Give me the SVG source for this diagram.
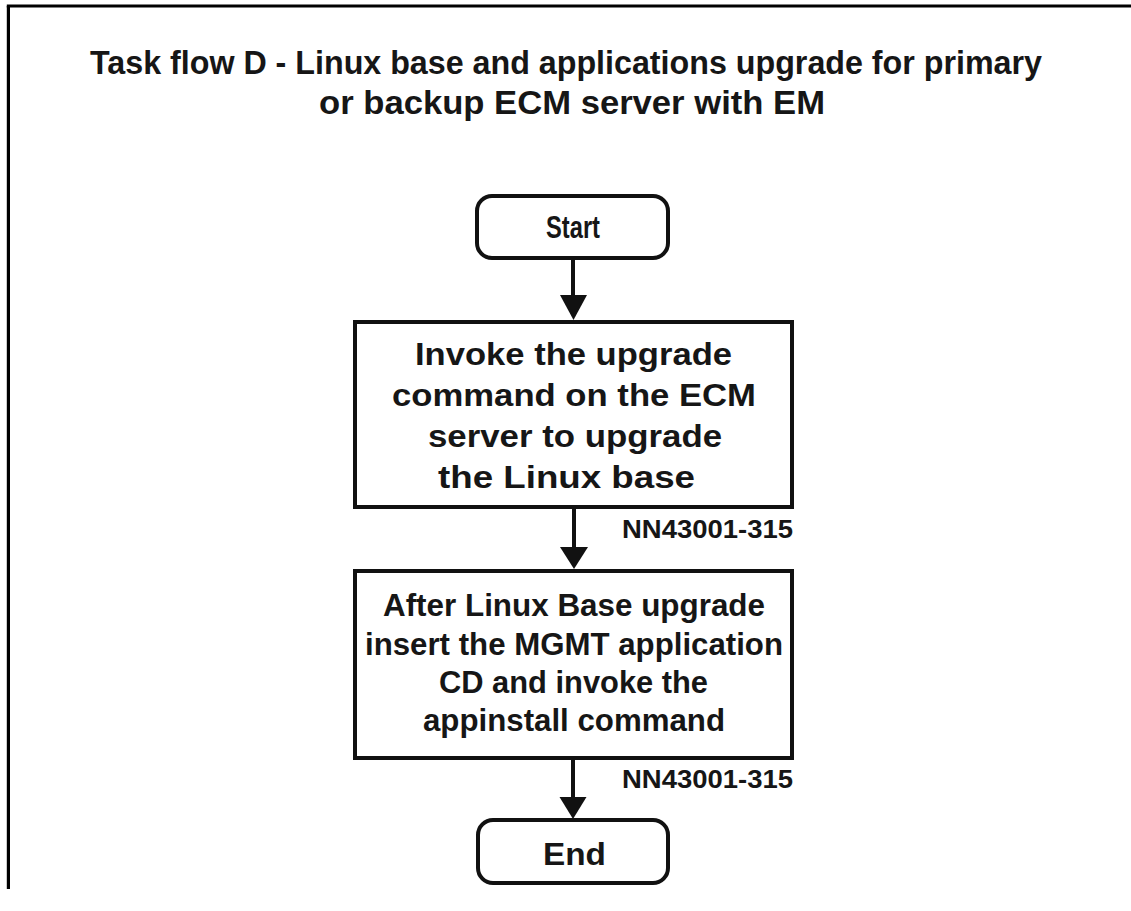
<svg xmlns="http://www.w3.org/2000/svg" width="1131" height="911" viewBox="0 0 1131 911">
  <defs>
    <style>
      .frame { stroke: #000; stroke-width: 3.2; fill: none; }
      .box { fill: #fff; stroke: #111; stroke-width: 4; }
      .edge { stroke: #111; stroke-width: 4; fill: none; }
      .head { fill: #111; }
      .t { font-family: "Liberation Sans", Arial, Helvetica, sans-serif; font-weight: bold; fill: #161616; }
      .title { font-size: 34px; }
      .body { font-size: 32px; }
      .term { font-size: 32px; }
      .ref { font-size: 25px; }
    </style>
  </defs>
  <rect width="1131" height="911" fill="#fff"/>
  <g id="frame">
    <line class="frame" x1="8.4" y1="6" x2="8.4" y2="889"/>
    <line class="frame" x1="6.8" y1="6" x2="1131" y2="6"/>
  </g>
  <g id="title">
    <text class="t title" x="90" y="74" textLength="952" lengthAdjust="spacingAndGlyphs">Task flow D - Linux base and applications upgrade for primary</text>
    <text class="t title" x="319" y="114" textLength="506" lengthAdjust="spacingAndGlyphs">or backup ECM server with EM</text>
  </g>
  <g id="connectors">
    <line class="edge" x1="573" y1="258" x2="573" y2="298"/>
    <polygon class="head" points="560,295 587,295 573.5,320"/>
    <line class="edge" x1="574" y1="507" x2="574" y2="550"/>
    <polygon class="head" points="560,547 588,547 574,569"/>
    <text class="t ref" x="622" y="538" textLength="171" lengthAdjust="spacingAndGlyphs">NN43001-315</text>
    <line class="edge" x1="573" y1="759" x2="573" y2="800"/>
    <polygon class="head" points="559.5,797 586.5,797 573,819"/>
    <text class="t ref" x="622" y="788" textLength="171" lengthAdjust="spacingAndGlyphs">NN43001-315</text>
  </g>
  <g id="start">
    <rect class="box" x="477" y="196" width="191" height="62" rx="15" ry="15"/>
    <text class="t term" x="546" y="238" textLength="54" lengthAdjust="spacingAndGlyphs">Start</text>
  </g>
  <g id="step1">
    <rect class="box" x="355" y="322" width="437" height="185"/>
    <text class="t body" x="415" y="365" textLength="317" lengthAdjust="spacingAndGlyphs">Invoke the upgrade</text>
    <text class="t body" x="392" y="406" textLength="364" lengthAdjust="spacingAndGlyphs">command on the ECM</text>
    <text class="t body" x="428" y="447" textLength="294" lengthAdjust="spacingAndGlyphs">server to upgrade</text>
    <text class="t body" x="438" y="488" textLength="257" lengthAdjust="spacingAndGlyphs">the Linux base</text>
  </g>
  <g id="step2">
    <rect class="box" x="355" y="571" width="437" height="187"/>
    <text class="t body" x="383" y="616" textLength="382" lengthAdjust="spacingAndGlyphs">After Linux Base upgrade</text>
    <text class="t body" x="365" y="655" textLength="418" lengthAdjust="spacingAndGlyphs">insert the MGMT application</text>
    <text class="t body" x="439" y="693" textLength="269" lengthAdjust="spacingAndGlyphs">CD and invoke the</text>
    <text class="t body" x="423" y="731" textLength="302" lengthAdjust="spacingAndGlyphs">appinstall command</text>
  </g>
  <g id="end">
    <rect class="box" x="478" y="820" width="190" height="63" rx="15" ry="15"/>
    <text class="t term" x="543" y="865" textLength="63" lengthAdjust="spacingAndGlyphs">End</text>
  </g>
</svg>
